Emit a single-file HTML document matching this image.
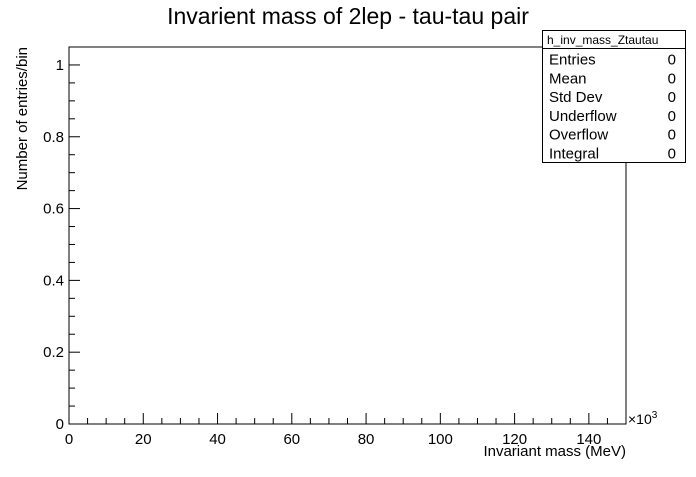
<!DOCTYPE html>
<html><head><meta charset="utf-8"><style>
body{margin:0;background:#fff;}
svg text{font-family:"Liberation Sans",Arial,sans-serif;fill:#000;}
</style></head><body>
<svg width="696" height="472" viewBox="0 0 696 472">
<rect x="0" y="0" width="696" height="472" fill="#fff"/>
<text x="348" y="24" font-size="23" text-anchor="middle">Invarient mass of 2lep - tau-tau pair</text>
<rect x="69" y="47" width="557" height="377" fill="none" stroke="#000" stroke-width="1"/>
<g id="axes"></g>
<text x="626" y="456" font-size="15" text-anchor="end">Invariant mass (MeV)</text>
<text x="628" y="424" font-size="14">×10<tspan font-size="10" dy="-6">3</tspan></text>
<text transform="translate(27,47) rotate(-90)" font-size="15" text-anchor="end">Number of entries/bin</text>
<g>
<rect x="542.5" y="30.5" width="143" height="132" fill="#fff" stroke="#000"/>
<line x1="542.5" y1="48.5" x2="685.5" y2="48.5" stroke="#000"/>
<text x="547" y="44" font-size="12">h_inv_mass_Ztautau</text>
<g id="stats" font-size="15"></g>
</g>
</svg>
<script>
const xTicks=[0,20,40,60,80,100,120,140];
const yTicks=[0,0.2,0.4,0.6,0.8,1];
const yTickLabels=["0","0.2","0.4","0.6","0.8","1"];
const statNames=["Entries","Mean","Std Dev","Underflow","Overflow","Integral"];
const statValues=["0","0","0","0","0","0"];
const xMin=0,xMax=150,yMin=0,yMax=1.05;
const L=69,R=626,T=47,B=424;
const NS="http://www.w3.org/2000/svg";
function X(v){return L+(v-xMin)/(xMax-xMin)*(R-L);}
function Y(v){return B-(v-yMin)/(yMax-yMin)*(B-T);}
const g=document.getElementById('axes');
function line(x1,y1,x2,y2,name){const l=document.createElementNS(NS,'line');l.setAttribute('x1',x1);l.setAttribute('y1',y1);l.setAttribute('x2',x2);l.setAttribute('y2',y2);l.setAttribute('stroke','#000');


g.appendChild(l);}
function text(x,y,s,anchor,name){const t=document.createElementNS(NS,'text');t.setAttribute('x',x);t.setAttribute('y',y);t.setAttribute('font-size','15');t.setAttribute('text-anchor',anchor);t.textContent=s;


g.appendChild(t);}
for(let v=xMin;v<=xMax;v+=5){const maj=v%20===0;line(X(v),B,X(v),B-(maj?11:6),maj?'x-major-tick':'x-minor-tick');}
xTicks.forEach(v=>text(X(v),B+20,String(v),'middle','x-tick-label'));
for(let i=0;i<=21;i++){const v=i*0.05;const maj=i%4===0;line(L,Y(v),L+(maj?11:6),Y(v),maj?'y-major-tick':'y-minor-tick');}
yTicks.forEach((v,i)=>text(L-5,Y(v)+5,yTickLabels[i],'end','y-tick-label'));
const s=document.getElementById('stats');
statNames.forEach((n,i)=>{const y=64.5+i*18.8;
const a=document.createElementNS(NS,'text');a.setAttribute('x',549);a.setAttribute('y',y);a.textContent=n;


s.appendChild(a);
const b=document.createElementNS(NS,'text');b.setAttribute('x',676);b.setAttribute('y',y);b.setAttribute('text-anchor','end');b.textContent=statValues[i];


s.appendChild(b);});
</script>
</body></html>
